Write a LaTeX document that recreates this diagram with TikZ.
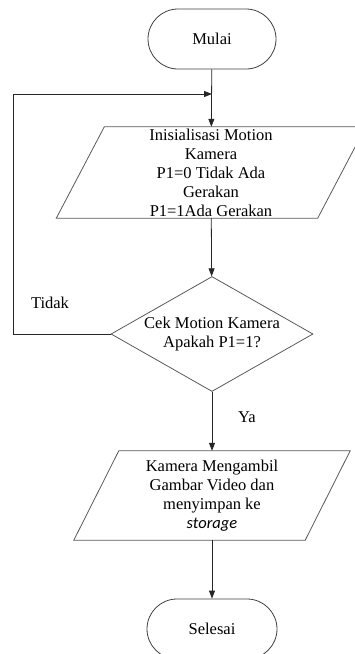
\documentclass[tikz,border=0pt]{standalone}
\usepackage{fontspec}
\setmainfont{Liberation Serif}
\newfontfamily\calibrifont{Carlito}
\usetikzlibrary{shapes.geometric,arrows.meta}

\tikzstyle{garis}=[draw=black!85, line width=0.8pt, -{Triangle[length=8pt,width=6pt]}]
\tikzstyle{bingkai}=[draw=black!65, line width=0.8pt]
\tikzstyle{term}=[rectangle, rounded corners=30pt, minimum width=128pt, minimum height=60pt, draw=black!75, line width=0.8pt, font=\fontsize{16.5}{19}\selectfont]
\tikzstyle{io}=[rectangle, inner sep=0pt, align=center, font=\fontsize{16.5}{19}\selectfont]
\tikzstyle{tanya}=[diamond, aspect=1.75, minimum width=202pt, minimum height=115pt, inner sep=0pt, draw=black!65, line width=0.8pt, align=center, font=\fontsize{16.5}{19}\selectfont]
\tikzstyle{ket}=[font=\fontsize{16.5}{19}\selectfont]

\begin{document}
\begin{tikzpicture}[x=1pt,y=-1pt]
        \clip (0,0) rectangle (355,654);
        \draw (212,39) node[term](mulai){Mulai};
        \draw (211,172.5) node[io, minimum width=261pt, minimum height=91pt](init){Inisialisasi Motion\\Kamera\\P1=0 Tidak Ada\\Gerakan\\P1=1Ada Gerakan};
        \draw (212,334) node[tanya](cek){Cek Motion Kamera\\Apakah P1=1?};
        \draw (212,495.5) node[io, minimum width=231pt, minimum height=89pt](rekam){Kamera Mengambil\\Gambar Video dan\\menyimpan ke\\{\calibrifont\itshape storage}};
        \draw (212,629) node[term, minimum width=130pt](selesai){Selesai};
        \draw (50,303) node[ket](tidak){Tidak};
        \draw (247,417) node[ket](ya){Ya};
        %
        \draw[bingkai] ([xshift=24pt]init.north west) -- ([xshift=24pt]init.north east)
            -- ([xshift=-24pt]init.south east) -- ([xshift=-24pt]init.south west) -- cycle;
        \draw[bingkai] ([xshift=22.5pt]rekam.north west) -- ([xshift=22.5pt]rekam.north east)
            -- ([xshift=-22.5pt]rekam.south east) -- ([xshift=-22.5pt]rekam.south west) -- cycle;
        %
        \coordinate (kiri) at (13,94);
        \coordinate (gabung) at (212,94);
        \path
            (mulai)   edge[garis]   (init)
            (init)    edge[garis]   (cek)
            (cek)     edge[garis]   (rekam)
            (rekam)   edge[garis]   (selesai)
        ;
        \draw[garis] (cek.west) -| (kiri) -- (gabung);
        %;
\end{tikzpicture}
\end{document}
